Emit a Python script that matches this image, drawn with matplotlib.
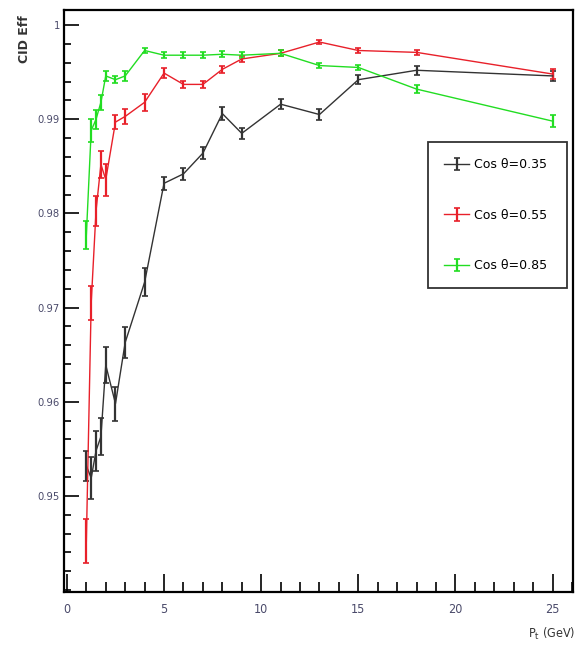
import numpy as np
import matplotlib
matplotlib.use("Agg")
import matplotlib.pyplot as plt
from matplotlib.ticker import MultipleLocator, FixedFormatter, FixedLocator

# momentum points (GeV)
pt = [1, 1.25, 1.5, 1.75, 2, 2.5, 3, 4, 5, 6, 7, 8, 9, 11, 13, 15, 18, 25]

eff_035 = [0.9532, 0.9519, 0.9548, 0.9563, 0.9639, 0.9598, 0.9663, 0.9727, 0.9832,
           0.9842, 0.9864, 0.9906, 0.9885, 0.9916, 0.9905, 0.9942, 0.9952, 0.9946]
err_035 = [0.0016, 0.0022, 0.0021, 0.0020, 0.0019, 0.0018, 0.0016, 0.0015, 0.0007,
           0.0006, 0.0006, 0.0007, 0.0006, 0.0005, 0.0006, 0.0005, 0.0005, 0.0005]

eff_055 = [0.9452, 0.9705, 0.9803, 0.9852, 0.9836, 0.9897, 0.9903, 0.9918, 0.9949,
           0.9937, 0.9937, 0.9953, 0.9964, 0.9970, 0.9982, 0.9973, 0.9971, 0.9948]
err_055 = [0.0023, 0.0018, 0.0016, 0.0014, 0.0017, 0.0007, 0.0008, 0.0009, 0.0005,
           0.0004, 0.0004, 0.0004, 0.0003, 0.0003, 0.0002, 0.0003, 0.0003, 0.0005]

eff_085 = [0.9777, 0.9888, 0.9900, 0.9918, 0.9946, 0.9942, 0.9946, 0.9973, 0.9968,
           0.9968, 0.9968, 0.9969, 0.9968, 0.9970, 0.9957, 0.9955, 0.9932, 0.9898]
err_085 = [0.0015, 0.0012, 0.0010, 0.0008, 0.0005, 0.0004, 0.0005, 0.0003, 0.0003,
           0.0003, 0.0003, 0.0003, 0.0003, 0.0003, 0.0003, 0.0003, 0.0004, 0.0006]

labels = ["Cos θ=0.35", "Cos θ=0.55", "Cos θ=0.85"]
colors = ["#333333", "#e8202a", "#22dd22"]

fig = plt.figure(figsize=(5.8, 6.54), dpi=100)
ax = fig.add_axes([64 / 580, 1 - 592 / 654, 509 / 580, 582 / 654])

series = [(eff_035, err_035), (eff_055, err_055), (eff_085, err_085)]
for (y, e), lab, c in zip(series, labels, colors):
    ax.errorbar(pt, y, yerr=e, fmt="-", color=c, lw=1.0, ecolor=c, elinewidth=1.6,
                capsize=2, capthick=1.2, zorder=3, label=lab)

ax.set_xlim(-0.15, 26.05)
ax.set_ylim(0.9398, 1.0016)

ax.xaxis.set_major_locator(MultipleLocator(5))
ax.xaxis.set_minor_locator(MultipleLocator(1))
ax.yaxis.set_major_locator(FixedLocator([0.95, 0.96, 0.97, 0.98, 0.99, 1.0]))
ax.yaxis.set_major_formatter(FixedFormatter(["0.95", "0.96", "0.97", "0.98", "0.99", "1"]))
ax.yaxis.set_minor_locator(MultipleLocator(0.002))

ax.tick_params(axis="both", which="both", direction="in", colors="black",
               top=False, right=False, width=1.2)
ax.tick_params(axis="y", which="major", length=11, labelsize=8, pad=3,
               labelcolor="#4a4a6a")
ax.tick_params(axis="y", which="minor", length=5)
ax.tick_params(axis="x", which="major", length=13, labelsize=9, pad=8,
               labelcolor="#4a4a6a")
ax.tick_params(axis="x", which="minor", length=7)
for lbl in ax.get_xticklabels() + ax.get_yticklabels():
    lbl.set_fontstretch("condensed")

for s in ax.spines.values():
    s.set_linewidth(1.6)

fig.text(25 / 580, 1 - 15 / 654, "CID Eff", rotation=90, ha="center", va="top",
         fontsize=9, fontweight="bold", color="#333333")
fig.text(575 / 580, 1 - 634 / 654, r"P$_{\rm t}$ (GeV)", ha="right", va="center",
         fontsize=9, color="#333333", fontstretch="condensed")

leg = ax.legend(loc="center", bbox_to_anchor=(0.715, 0.522, 0.273, 0.251),
                mode="expand", borderaxespad=0, fontsize=9, labelspacing=3.0,
                borderpad=1.3, handlelength=2.0, handletextpad=0.4, frameon=True,
                fancybox=False, edgecolor="black")
leg.get_frame().set_linewidth(1.3)

fig.savefig("out.png", dpi=100)
